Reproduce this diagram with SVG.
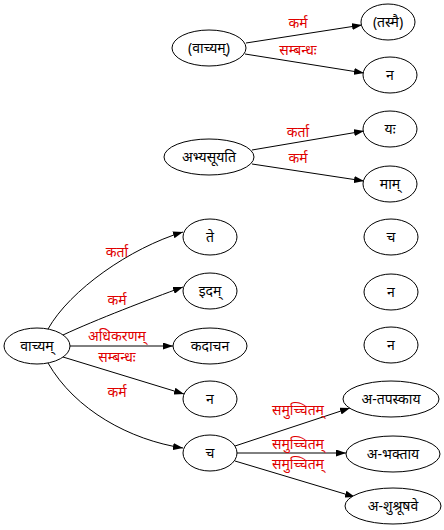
<svg xmlns="http://www.w3.org/2000/svg" width="444" height="530" viewBox="0 0 444 530">
  <defs>
    <marker id="arrow" markerWidth="10" markerHeight="7" refX="10" refY="3.5" orient="auto" markerUnits="userSpaceOnUse">
      <path d="M0,0 L10,3.5 L0,7 z" fill="#000"/>
    </marker>
    <style>
      .node ellipse { fill: #fff; stroke: #000; stroke-width: 1; }
      .node text { font-family: "Noto Sans", "Liberation Sans", sans-serif; font-size: 14px; fill: #000; text-anchor: middle; }
      .edges path { fill: none; stroke: #000; stroke-width: 1; marker-end: url(#arrow); }
      .edges text { font-family: "Noto Sans", "Liberation Sans", sans-serif; font-size: 14px; fill: #e00000; text-anchor: middle; }
    </style>
  </defs>
  <rect width="444" height="530" fill="#fff"/>

  <g class="edges">
    <path d="M246,43 L362,25"/>
    <text x="298" y="28">कर्म</text>
    <path d="M245,54 L364,73"/>
    <text x="298" y="55">सम्बन्धः</text>

    <path d="M252,150 L364,131"/>
    <text x="298" y="137">कर्ता</text>
    <path d="M252,164 L364,181"/>
    <text x="298" y="163">कर्म</text>

    <path d="M48,329 C70,290 130,248 183,232"/>
    <text x="117" y="257">कर्ता</text>
    <path d="M63,335 C95,320 150,299 183,287"/>
    <text x="117" y="305">कर्म</text>
    <path d="M70,346 L173,346"/>
    <text x="117" y="341">अधिकरणम्</text>
    <path d="M63,357 L184,394"/>
    <text x="117" y="362">सम्बन्धः</text>
    <path d="M48,363 C75,410 130,440 183,448"/>
    <text x="117" y="397">कर्म</text>

    <path d="M235,446 L350,408"/>
    <text x="298" y="415">समुच्चितम्</text>
    <path d="M236,453 L346,453"/>
    <text x="298" y="449">समुच्चितम्</text>
    <path d="M235,461 L355,497"/>
    <text x="298" y="469">समुच्चितम्</text>
  </g>

  <g id="vacyam-paren" class="node"><ellipse cx="209" cy="48" rx="37" ry="18"/><text x="209" y="53">(वाच्यम्)</text></g>
  <g id="tasmai" class="node"><ellipse cx="388" cy="22" rx="27" ry="18"/><text x="388" y="27">(तस्मै)</text></g>
  <g id="na-1" class="node"><ellipse cx="390" cy="75" rx="27" ry="18"/><text x="390" y="80">न</text></g>

  <g id="abhyasuyati" class="node"><ellipse cx="209" cy="157" rx="45" ry="18"/><text x="209" y="162">अभ्यसूयति</text></g>
  <g id="yah" class="node"><ellipse cx="390" cy="129" rx="27" ry="18"/><text x="390" y="134">यः</text></g>
  <g id="mam" class="node"><ellipse cx="390" cy="184" rx="27" ry="18"/><text x="390" y="189">माम्</text></g>

  <g id="vacyam" class="node"><ellipse cx="37" cy="346" rx="33" ry="18"/><text x="37" y="351">वाच्यम्</text></g>
  <g id="te" class="node"><ellipse cx="210" cy="237" rx="27" ry="18"/><text x="210" y="242">ते</text></g>
  <g id="idam" class="node"><ellipse cx="210" cy="291" rx="27" ry="18"/><text x="210" y="296">इदम्</text></g>
  <g id="kadacana" class="node"><ellipse cx="210" cy="346" rx="37" ry="18"/><text x="210" y="351">कदाचन</text></g>
  <g id="na-2" class="node"><ellipse cx="210" cy="399" rx="27" ry="18"/><text x="210" y="404">न</text></g>
  <g id="ca" class="node"><ellipse cx="210" cy="453" rx="27" ry="18"/><text x="210" y="458">च</text></g>

  <g id="ca-solo" class="node"><ellipse cx="391" cy="237" rx="27" ry="18"/><text x="391" y="242">च</text></g>
  <g id="na-solo-1" class="node"><ellipse cx="391" cy="292" rx="27" ry="18"/><text x="391" y="297">न</text></g>
  <g id="na-solo-2" class="node"><ellipse cx="391" cy="345" rx="27" ry="18"/><text x="391" y="350">न</text></g>

  <g id="a-tapaskaya" class="node"><ellipse cx="391" cy="399" rx="48" ry="18"/><text x="391" y="404">अ-तपस्काय</text></g>
  <g id="a-bhaktaya" class="node"><ellipse cx="393" cy="454" rx="47" ry="18"/><text x="393" y="459">अ-भक्ताय</text></g>
  <g id="a-shushrushave" class="node"><ellipse cx="393" cy="506" rx="48" ry="18"/><text x="393" y="511">अ-शुश्रूषवे</text></g>
</svg>
